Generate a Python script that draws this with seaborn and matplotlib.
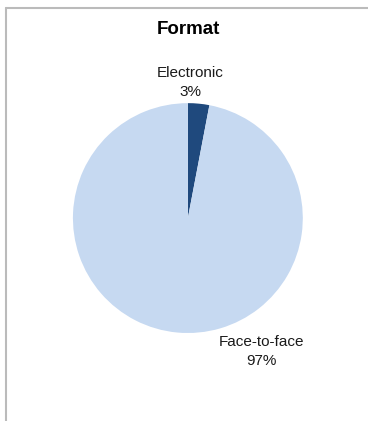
"""Pie chart of delivery format"""

import matplotlib
matplotlib.use("Agg")
import matplotlib.pyplot as plt
import seaborn as sns
from matplotlib.lines import Line2D

sns.set_theme(style="white")
plt.rcParams["font.family"] = ["Liberation Sans", "DejaVu Sans"]

formats = ["Electronic", "Face-to-face"]
shares = [3, 97]
colors = ["#1F497D", "#C6D9F1"]

fig = plt.figure(figsize=(3.68, 4.21), dpi=100)
ax = fig.add_axes([0.198, 0.209, 0.625, 0.546])

wedges, _ = ax.pie(
    shares,
    colors=colors,
    startangle=90,
    counterclock=False,
    wedgeprops={"linewidth": 0},
)
ax.set_xlim(-1, 1)
ax.set_ylim(-1, 1)
ax.set_aspect("equal")

# data labels, placed like the Excel original
label_pos = [(0.02, 1.18), (0.64, -1.16)]
for name, val, (x, y) in zip(formats, shares, label_pos):
    ax.text(x, y, f"{name}\n{val}%", ha="center", va="center",
            fontsize=11, color="#1a1a1a", linespacing=1.4)

fig.text(0.511, 0.931, "Format", ha="center", va="center",
         fontsize=13.5, fontweight="bold", color="black")

# chart-area frame (open at right and bottom, as cropped)
fig.add_artist(Line2D([5.5 / 368, 5.5 / 368], [0, 1 - 7.5 / 421],
                      transform=fig.transFigure, color="#BBBBBB", lw=1.5))
fig.add_artist(Line2D([5.5 / 368, 1], [1 - 7.5 / 421, 1 - 7.5 / 421],
                      transform=fig.transFigure, color="#BBBBBB", lw=1.5))

fig.savefig("out.png", dpi=100)
